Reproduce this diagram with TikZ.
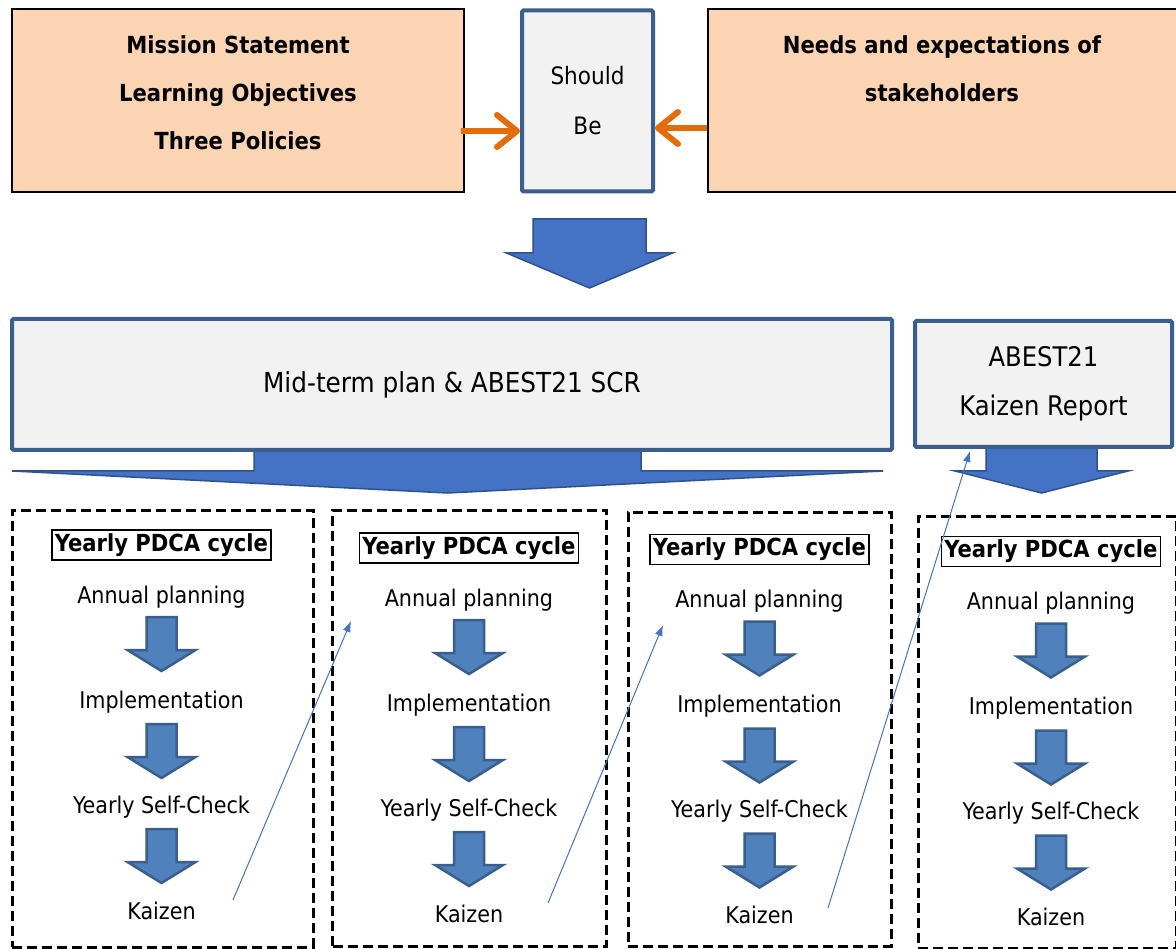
\documentclass[tikz,border=0pt]{standalone}
\usepackage{fontspec}
\setmainfont{DejaVu Sans Condensed}
\usetikzlibrary{arrows.meta}
\definecolor{peach}{HTML}{FBD4B4}
\definecolor{boxgray}{HTML}{F2F2F2}
\definecolor{boxblue}{HTML}{3A5F8C}
\definecolor{arrfill}{HTML}{4472C4}
\definecolor{arrline}{HTML}{2F528F}
\definecolor{smfill}{HTML}{4F81BD}
\definecolor{smline}{HTML}{3A5F8C}
\definecolor{orng}{HTML}{E46C0A}
\definecolor{thinblue}{HTML}{4472C4}
\newcommand{\blockdown}[7]{%
  \draw[#1] ({#2-#4},#3) -- ({#2+#4},#3) -- ({#2+#4},#6) -- ({#2+#5},#6) -- (#2,#7) -- ({#2-#5},#6) -- ({#2-#4},#6) -- cycle;}
\newcommand{\pdcacolumn}[3]{%
  \node[titlebox] (t#1) at (#2,#3) {Yearly PDCA cycle};
  \node[item] (a#1) at (#2,{#3+58}) {Annual planning};
  \node[item] (i#1) at (#2,{#3+163}) {Implementation};
  \node[item] (s#1) at (#2,{#3+268}) {Yearly Self-Check};
  \node[item] (k#1) at (#2,{#3+374}) {Kaizen};
  \blockdown{smallarrow}{#2}{#3+72}{15}{34}{#3+105}{#3+126}
  \blockdown{smallarrow}{#2}{#3+179}{15}{34}{#3+212}{#3+233}
  \blockdown{smallarrow}{#2}{#3+284}{15}{34}{#3+317}{#3+338}
}
\begin{document}
\begin{tikzpicture}[x=1pt,y=-1pt,
  peachbox/.style={draw=black, line width=2pt, fill=peach, inner sep=0pt},
  graybox/.style={draw=boxblue, line width=4pt, fill=boxgray, rounded corners=1.5pt, inner sep=0pt, align=center},
  bigarrow/.style={draw=arrline, line width=1.5pt, fill=arrfill, line join=miter},
  smallarrow/.style={draw=smline, line width=2.5pt, fill=smfill, line join=miter},
  dashbox/.style={draw=black, line width=3pt, dash pattern=on 10pt off 5pt, inner sep=0pt},
  titlebox/.style={draw=black, line width=1.5pt, inner sep=0pt, minimum width=219pt, minimum height=30pt, font=\fontsize{23.5}{27}\bfseries\selectfont},
  item/.style={anchor=base, inner sep=0pt, font=\fontsize{23}{27}\selectfont},
  boldtext/.style={align=center, inner sep=0pt, font=\fontsize{23.5}{48}\bfseries\selectfont},
  orangearrow/.style={draw=orng, line width=6pt, -{Straight Barb[round, length=20pt, width=32pt]}},
  thinarrow/.style={draw=thinblue, line width=1pt, -{Latex[length=11pt, width=8pt]}}
]
\clip (0,0) rectangle (1176,949);
\fill[white] (0,0) rectangle (1176,949);

% top row
\node[peachbox, minimum width=452pt, minimum height=183pt] (mission) at (238,100.5) {};
\node[boldtext] (missiontext) at (238,93) {Mission Statement\\Learning Objectives\\Three Policies};
\node[peachbox, minimum width=480pt, minimum height=183pt] (needs) at (948,100.5) {};
\node[boldtext] (needstext) at (942,69) {Needs and expectations of\\stakeholders};
\node[graybox, minimum width=131pt, minimum height=181pt, font=\fontsize{24}{50}\selectfont] (should) at (587.5,101) {Should\\Be};

\coordinate (oa) at (461,131);
\draw[orangearrow] (oa) -- (should.west |- oa);
\coordinate (ob) at (707,128);
\draw[orangearrow] (ob) -- (should.east |- ob);

% big arrow down
\blockdown{bigarrow}{589.5}{219}{56.5}{83}{253}{288}

% mid-term plan
\blockdown{bigarrow}{447.5}{440}{193.5}{435.5}{471}{493}
\node[graybox, minimum width=880pt, minimum height=131pt, font=\fontsize{27.5}{32}\selectfont] (midterm) at (452,384.5) {Mid-term plan \& ABEST21 SCR};

% Kaizen report
\blockdown{bigarrow}{1041.5}{440}{55.5}{86.5}{471}{493}
\node[graybox, minimum width=257pt, minimum height=126pt, font=\fontsize{27}{49}\selectfont] (report) at (1043.5,384) {ABEST21\\Kaizen Report};

% dashed column boxes
\node[dashbox, minimum width=301pt, minimum height=437pt] (col1) at (162.5,728.5) {};
\node[dashbox, minimum width=274pt, minimum height=436pt] (col2) at (469.5,728) {};
\node[dashbox, minimum width=263pt, minimum height=434pt] (col3) at (759.5,729) {};
\node[dashbox, minimum width=258pt, minimum height=432pt] (col4) at (1047,732) {};

\pdcacolumn{1}{161.5}{545}
\pdcacolumn{2}{469}{548}
\pdcacolumn{3}{759.5}{549.5}
\pdcacolumn{4}{1051}{551.5}

% thin connectors
\coordinate (f1) at (233,900);
\coordinate (g1) at (351,621);
\draw[thinarrow] (f1) -- (g1);
\coordinate (f2) at (548,903);
\coordinate (g2) at (663,625);
\draw[thinarrow] (f2) -- (g2);
\coordinate (f3) at (828,908);
\coordinate (g3) at (970,451);
\draw[thinarrow] (f3) -- (g3);
\end{tikzpicture}
\end{document}
